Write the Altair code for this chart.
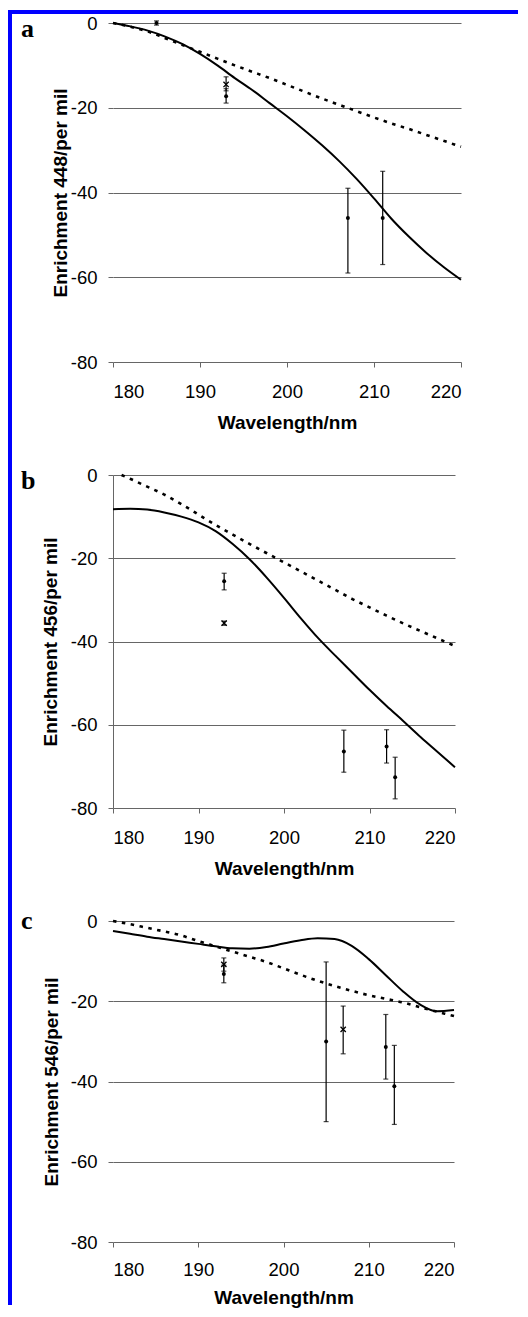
import altair as alt
import pandas as pd

# ---------------- data ----------------
GRID_X = [180, 182, 184, 186, 188, 190, 192, 194, 196, 198, 200,
          202, 204, 206, 208, 210, 212, 214, 216, 218, 220]

# panel a
a_solid = [0, -0.8, -1.8, -3.2, -5.0, -7.3, -10.0, -13.0, -15.8, -18.9, -22.0,
           -25.3, -28.8, -32.6, -36.8, -41.4, -46.2, -50.4, -54.2, -57.6, -60.6]
a_dash_x = GRID_X
a_dash = [0, -0.9, -2.0, -3.6, -5.2, -6.8, -8.4, -10.0, -11.5, -13.0, -14.6,
          -16.2, -17.8, -19.3, -20.8, -22.3, -23.7, -25.0, -26.4, -27.8, -29.2]
a_pt_x = [185, 193, 193, 207, 211]
a_pt_y = [0, -17.3, -14.5, -46, -46]
a_pt_lo = [-0.5, -18.9, -16.0, -59, -57]
a_pt_hi = [0.5, -15.5, -12.7, -39, -35]
a_pt_kind = ["dot", "dot", "x", "dot", "dot"]

# panel b
b_solid = [-8.2, -8.1, -8.3, -9.0, -10.0, -11.4, -13.5, -16.6, -20.3, -24.7, -29.5,
           -34.5, -39.2, -43.4, -47.5, -51.6, -55.5, -59.2, -63.0, -66.6, -70.2]
b_dash_x = [181, 182, 184, 186, 188, 190, 192, 194, 196, 198, 200,
            202, 204, 206, 208, 210, 212, 214, 216, 218, 220]
b_dash = [0, -0.9, -2.8, -4.7, -7.0, -9.5, -12.0, -14.3, -16.6, -18.8, -21.0,
          -23.2, -25.4, -27.6, -29.8, -31.8, -33.8, -35.7, -37.5, -39.3, -41.1]
b_pt_x = [193, 193, 207, 212, 213]
b_pt_y = [-25.5, -35.6, -66.4, -65.2, -72.6]
b_pt_lo = [-27.6, -36.1, -71.4, -69.2, -77.8]
b_pt_hi = [-23.6, -35.1, -61.3, -61.2, -67.8]
b_pt_kind = ["dot", "x", "dot", "dot", "dot"]

# panel c
c_solid = [-2.5, -3.2, -3.9, -4.5, -5.1, -5.7, -6.3, -6.8, -6.9, -6.5, -5.6,
           -4.8, -4.3, -4.5, -6.2, -9.5, -13.5, -17.5, -20.8, -22.5, -22.2]
c_dash_x = GRID_X
c_dash = [0, -0.8, -1.7, -2.6, -3.6, -5.0, -6.3, -7.6, -8.9, -10.2, -11.8,
          -13.4, -14.9, -16.2, -17.4, -18.5, -19.4, -20.3, -21.5, -22.6, -23.7]
c_pt_x = [193, 193, 205, 207, 212, 213]
c_pt_y = [-13.2, -10.8, -30, -27, -31.4, -41.2]
c_pt_lo = [-15.4, -12.5, -50, -33.1, -39.4, -50.7]
c_pt_hi = [-11.0, -9.2, -10.2, -21.2, -23.3, -31.0]
c_pt_kind = ["dot", "x", "dot", "x", "dot", "dot"]

X_TICKS = [180, 190, 200, 210, 220]
Y_TICKS = [0, -20, -40, -60, -80]

SANS = "Liberation Sans"
GRID = "#666666"
BLUE = "#0000ff"


def panel(letter, solid, dash_x, dash, px, py, plo, phi, pkind, ytitle,
          w, h, title_pad, letter_y, ydomain, xlab_pad, xtitle_pad, frame=False):
    X = alt.X("w:Q", scale=alt.Scale(domain=[180, 220], nice=False, zero=False),
              axis=alt.Axis(values=X_TICKS, title="Wavelength/nm", grid=False,
                            domain=False, ticks=True, tickSize=5, tickColor=GRID,
                            labelPadding=xlab_pad, labelFontSize=18.5, labelFont=SANS,
                            labelColor="black", titleFont=SANS, titleFontSize=19,
                            titleFontWeight="bold", titleColor="black",
                            titlePadding=xtitle_pad))
    Y = alt.Y("v:Q", scale=alt.Scale(domain=[-80, 0], nice=False, zero=False),
              axis=alt.Axis(values=Y_TICKS, title=ytitle, grid=True, gridColor=GRID,
                            gridWidth=1, gridOpacity=1, domain=ydomain,
                            domainColor=GRID, ticks=True, tickSize=5,
                            tickColor=GRID, labelPadding=11, labelFontSize=18.5,
                            labelFont=SANS, labelColor="black",
                            labelExpr="'' + datum.value",
                            titleFont=SANS, titleFontSize=19,
                            titleFontWeight="bold", titleColor="black",
                            titlePadding=title_pad))

    df_s = pd.DataFrame({"w": GRID_X, "v": solid})
    df_d = pd.DataFrame({"w": dash_x, "v": dash})
    df_p = pd.DataFrame({"w": px, "v": py, "kind": pkind})
    df_e = pd.DataFrame({"w": px, "v": plo, "v2": phi})
    df_c = pd.DataFrame({"w": px + px, "v": plo + phi})

    solid_l = alt.Chart(df_s).mark_line(color="black", strokeWidth=2,
                                        interpolate="monotone").encode(x=X, y=Y)
    dash_l = alt.Chart(df_d).mark_line(color="black", strokeWidth=2.6,
                                       interpolate="monotone",
                                       strokeDash=[3.5, 5.5]).encode(x=X, y=Y)
    err = alt.Chart(df_e).mark_rule(color="black", strokeWidth=1.2).encode(
        x=X, y=Y, y2=alt.Y2("v2:Q"))
    caps = alt.Chart(df_c).mark_tick(color="black", orient="horizontal",
                                     size=5, thickness=1.2).encode(x=X, y=Y)
    dots = alt.Chart(df_p).transform_filter(alt.datum.kind == "dot").mark_point(
        filled=True, color="black", size=16, opacity=1).encode(x=X, y=Y)
    xs = alt.Chart(df_p).transform_filter(alt.datum.kind == "x").mark_point(
        shape="M-1,-1L1,1M1,-1L-1,1", filled=False, color="black", size=28,
        strokeWidth=1.3, opacity=1).encode(x=X, y=Y)
    lab = alt.Chart(pd.DataFrame({"t": [letter]})).mark_text(
        font="Liberation Serif", fontWeight="bold", fontSize=26, align="left",
        baseline="alphabetic", color="black").encode(
        x=alt.value(-92), y=alt.value(letter_y), text="t:N")

    layers = [solid_l, dash_l, err, caps, dots, xs, lab]
    if frame:
        # decorative blue frame (top and left edges of the page figure)
        one = pd.DataFrame({"t": [0]})
        top = alt.Chart(one).mark_rect(color=BLUE).encode(
            x=alt.value(-105), x2=alt.value(405), y=alt.value(-13), y2=alt.value(-9))
        left = alt.Chart(one).mark_rect(color=BLUE).encode(
            x=alt.value(-105), x2=alt.value(-101), y=alt.value(-13), y2=alt.value(1282))
        layers = [top, left] + layers
    return alt.layer(*layers).properties(width=w, height=h)


A = panel("a", a_solid, a_dash_x, a_dash, a_pt_x, a_pt_y, a_pt_lo, a_pt_hi,
          a_pt_kind, "Enrichment 448/per mil", 348, 339, 0, 14, False, 15, 13,
          frame=True)
B = panel("b", b_solid, b_dash_x, b_dash, b_pt_x, b_pt_y, b_pt_lo, b_pt_hi,
          b_pt_kind, "Enrichment 456/per mil", 342, 333, 10, 14, True, 15, 13)
C = panel("c", c_solid, c_dash_x, c_dash, c_pt_x, c_pt_y, c_pt_lo, c_pt_hi,
          c_pt_kind, "Enrichment 546/per mil", 341, 321, 9, 8, False, 13, 10)

chart = alt.vconcat(A, B, C, spacing=113, bounds="flush").properties(
    padding={"left": 0, "top": 2, "right": 0, "bottom": 0},
    background="white",
).configure_view(stroke=None)

chart.save("out.html", embed_options={"renderer": "svg", "actions": False})
